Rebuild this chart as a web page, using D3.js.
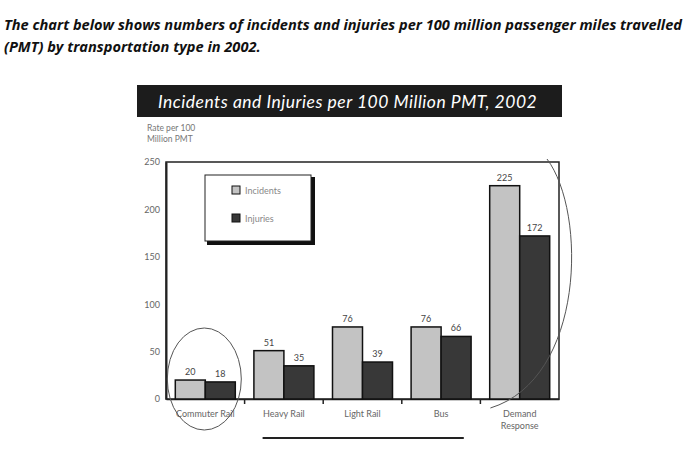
<!DOCTYPE html>
<html><head><meta charset="utf-8">
<script src="https://cdn.jsdelivr.net/npm/d3@7"></script>
<style>body{margin:0;background:#fff}svg{display:block}</style>
</head><body>
<svg id="c" width="700" height="462"></svg>
<script>
const categories = ["Commuter Rail", "Heavy Rail", "Light Rail", "Bus", "Demand Response"];
const seriesNames = ["Incidents", "Injuries"];
const incidents = [20, 51, 76, 76, 225];
const injuries = [18, 35, 39, 66, 172];
const yTicks = [0, 50, 100, 150, 200, 250];
const headerLines = ["The chart below shows numbers of incidents and injuries per 100 million passenger miles travelled",
                     "(PMT) by transportation type in 2002."];
const chartTitle = "Incidents and Injuries per 100 Million PMT, 2002";
const yLabelLines = ["Rate per 100", "Million PMT"];

(function() {
const svg = d3.select("#c");
const colors = {Incidents: "#c3c3c3", Injuries: "#383838"};

// header
svg.selectAll("text.hdr").data(headerLines).join("text")
  .attr("x", 4).attr("y", (d, i) => 30 + i * 22)
  .attr("font-family", "Open Sans").attr("font-style", "italic").attr("font-weight", "bold")
  .attr("font-size", 14.6).attr("fill", "#111").text(d => d);

// banner
svg.append("rect").attr("x", 137).attr("y", 85).attr("width", 425).attr("height", 32).attr("fill", "#1c1c1c");
svg.append("text").attr("x", 158).attr("y", 108).attr("fill", "#fff")
  .attr("font-family", "Lato").attr("font-style", "italic").attr("font-size", 17.5)
  .attr("letter-spacing", 0.5).text(chartTitle);

// y label
svg.selectAll("text.yl").data(yLabelLines).join("text")
  .attr("x", 147).attr("y", (d, i) => 131 + i * 11)
  .attr("font-family", "Lato").attr("font-size", 8.5).attr("fill", "#777").text(d => d);

const pL = 166, pR = 559, pT = 162, pB = 399;
const x = d3.scaleBand().domain(categories).range([pL, pR]).padding(0);
const x1 = d3.scaleBand().domain(seriesNames).range([0, x.bandwidth()]).paddingOuter(0.31).paddingInner(0);
const y = d3.scaleLinear().domain([0, 250]).range([pB, pT]);

// frame
svg.append("rect").attr("x", pL).attr("y", pT).attr("width", pR - pL).attr("height", pB - pT)
  .attr("fill", "none").attr("stroke", "#222").attr("stroke-width", 1.5);

// y axis
const yAxis = d3.axisLeft(y).tickValues(yTicks).tickSize(0).tickPadding(6);
const gy = svg.append("g").attr("transform", `translate(${pL},0)`).call(yAxis);
gy.select(".domain").attr("stroke", "#222").attr("stroke-width", 2);
gy.selectAll("text").attr("font-family", "Lato").attr("font-size", 9).attr("fill", "#666");

// x axis
const xAxis = d3.axisBottom(x).tickSize(0).tickPadding(12);
const gx = svg.append("g").attr("transform", `translate(0,${pB})`).call(xAxis);
gx.select(".domain").attr("stroke", "#222").attr("stroke-width", 1.5);
gx.selectAll("text").attr("font-family", "Lato").attr("font-size", 9).attr("fill", "#666")
  .each(function(d) {
    const t = d3.select(this), words = d.split(" ");
    if (d === "Demand Response") {
      t.text(null);
      words.forEach((w, i) => t.append("tspan").attr("x", 0).attr("dy", i ? "1.25em" : "0.71em").text(w));
    }
  });
// boundary ticks
svg.selectAll("line.bt").data(categories.slice(1)).join("line")
  .attr("x1", d => x(d)).attr("x2", d => x(d)).attr("y1", pB).attr("y2", pB + 5)
  .attr("stroke", "#222").attr("stroke-width", 1.5);

// bars
const rows = categories.map((c, i) => ({c, vals: [{s: "Incidents", v: incidents[i]}, {s: "Injuries", v: injuries[i]}]}));
const grp = svg.selectAll("g.grp").data(rows).join("g").attr("transform", d => `translate(${x(d.c)},0)`);
grp.selectAll("rect").data(d => d.vals).join("rect")
  .attr("x", d => x1(d.s)).attr("y", d => y(d.v)).attr("width", x1.bandwidth()).attr("height", d => pB - y(d.v))
  .attr("fill", d => colors[d.s]).attr("stroke", "#111").attr("stroke-width", 1.5);
grp.selectAll("text").data(d => d.vals).join("text")
  .attr("x", d => x1(d.s) + x1.bandwidth() / 2).attr("y", d => y(d.v) - 5).attr("text-anchor", "middle")
  .attr("font-family", "Lato").attr("font-size", 9).attr("fill", "#444").text(d => d.v);

// legend
const lg = svg.append("g");
lg.append("rect").attr("x", 207).attr("y", 177).attr("width", 108).attr("height", 68).attr("fill", "#111");
lg.append("rect").attr("x", 205).attr("y", 175).attr("width", 106).attr("height", 66).attr("fill", "#fff").attr("stroke", "#222");
seriesNames.forEach((s, i) => {
  lg.append("rect").attr("x", 232).attr("y", 186 + i * 28).attr("width", 8).attr("height", 8)
    .attr("fill", colors[s]).attr("stroke", "#111");
  lg.append("text").attr("x", 245).attr("y", 194 + i * 28).attr("font-family", "Lato").attr("font-size", 9)
    .attr("fill", "#888").text(s);
});

// annotations
svg.append("ellipse").attr("cx", x(categories[0]) + x.bandwidth() / 2 - 1).attr("cy", 379).attr("rx", 37).attr("ry", 51)
  .attr("fill", "none").attr("stroke", "#555").attr("stroke-width", 1);
svg.append("path").attr("d", `M${pR - 12},${pT - 3} C${pR + 28},${pT + 50} ${pR + 26},${pB - 20} ${x(categories[4]) + 10},${pB + 9}`)
  .attr("fill", "none").attr("stroke", "#555").attr("stroke-width", 1);
svg.append("line").attr("x1", x(categories[1]) + 18).attr("x2", x(categories[3]) + 62).attr("y1", 438).attr("y2", 438)
  .attr("stroke", "#222").attr("stroke-width", 2);
})();
</script>
</body></html>
